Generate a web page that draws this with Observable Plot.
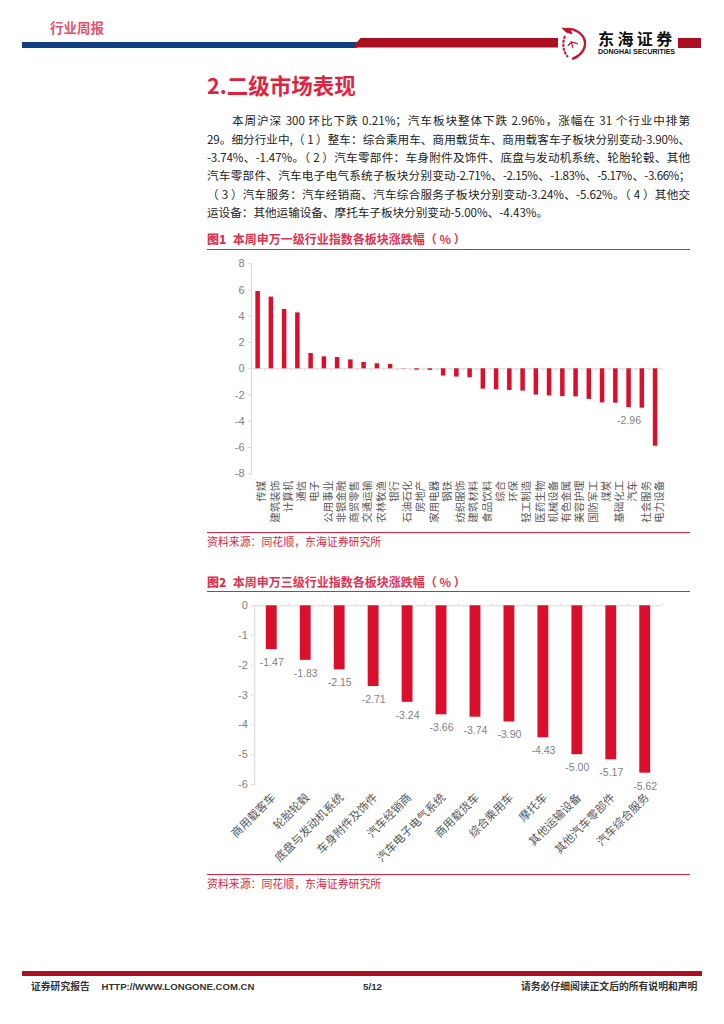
<!DOCTYPE html>
<html lang="zh">
<head>
<meta charset="utf-8">
<script src="https://cdn.jsdelivr.net/npm/d3@7"></script>
<script src="https://cdn.jsdelivr.net/npm/@observablehq/plot@0.6"></script>
<style>
html,body{margin:0;padding:0;background:#fff;}
body{position:relative;width:724px;height:1024px;overflow:hidden;font-family:"Noto Sans CJK SC","Noto Sans",sans-serif;}
.abs{position:absolute;white-space:nowrap;}
.line{position:absolute;left:207px;width:483px;font-size:11.6px;line-height:18px;color:#222;text-align:justify;text-align-last:justify;white-space:normal;}
.cap{position:absolute;left:207px;font-size:12px;font-weight:700;color:#e0314f;white-space:nowrap;}
.cap b{display:inline-block;width:25.7px;}
.src{position:absolute;left:207px;font-size:10.9px;color:#d81e3f;white-space:nowrap;}
.rule{position:absolute;left:207px;width:483px;height:1.2px;background:#e1223f;}
.foot{position:absolute;top:980px;font-size:9.8px;line-height:14px;font-weight:700;color:#333;white-space:nowrap;font-family:"Liberation Sans","Noto Sans CJK SC",sans-serif;}
.chart{position:absolute;left:207px;}
</style>
</head>
<body>
<div class="abs" style="left:50px;top:17px;font-size:13.5px;font-weight:700;color:#e4526c;">行业周报</div>
<div class="abs" style="left:22px;top:41.5px;width:335px;height:6px;background:#0f3f82;"></div>
<div class="abs" style="left:352.5px;top:38px;width:205.5px;height:9.5px;background:#ac0e22;clip-path:polygon(8px 0,100% 0,100% 100%,0 100%);"></div>
<div class="abs" style="left:678px;top:38px;width:23px;height:9.5px;background:#ac0e22;"></div>
<svg class="abs" style="left:560px;top:26px;" width="30" height="36" viewBox="0 0 30 36" fill="none" stroke="#c2142c">
  <path d="M6 3 C15 2 24 8 25 16 C25.500 24 20 30 12 33" stroke-width="2.4"/>
  <path d="M5 10 C2 17 3 26 8 31" stroke-width="2" stroke-dasharray="3 1"/>
  <path d="M2 2 L10 3 L12 8 L6 6Z" fill="#c2142c" stroke-width="0.8"/>
  <path d="M8 20 C11 15 14 16 18 18 M11 15 L13 22" stroke-width="1.1"/>
</svg>
<div class="abs" style="left:598px;top:30px;font-size:16px;line-height:16px;font-weight:700;letter-spacing:3.4px;color:#111;">东海证券</div>
<div class="abs" style="left:598px;top:48px;font-size:7px;line-height:8px;font-weight:700;color:#111;font-family:'Liberation Sans',sans-serif;">DONGHAI SECURITIES</div>

<div class="abs" style="left:207px;top:69px;font-size:21.5px;font-weight:700;color:#e1223f;">2.二级市场表现</div>

<div class="line" style="top:111px;left:232px;width:458px;">本周沪深 300 环比下跌 0.21%；汽车板块整体下跌 2.96%，涨幅在 31 个行业中排第</div>
<div class="line" style="top:130px;letter-spacing:-0.15px;">29。细分行业中,（ 1 ）整车：综合乘用车、商用载货车、商用载客车子板块分别变动-3.90%、</div>
<div class="line" style="top:148px;letter-spacing:-0.15px;">-3.74%、-1.47%。（ 2 ）汽车零部件：车身附件及饰件、底盘与发动机系统、轮胎轮毂、其他</div>
<div class="line" style="top:166px;letter-spacing:-0.45px;">汽车零部件、汽车电子电气系统子板块分别变动-2.71%、-2.15%、-1.83%、-5.17%、-3.66%；</div>
<div class="line" style="top:185px;letter-spacing:-0.1px;">（ 3 ）汽车服务：汽车经销商、汽车综合服务子板块分别变动-3.24%、-5.62%。（ 4 ）其他交</div>
<div class="line" style="top:203px;text-align-last:left;">运设备：其他运输设备、摩托车子板块分别变动-5.00%、-4.43%。</div>

<div class="cap" style="top:230px;"><b>图1</b>本周申万一级行业指数各板块涨跌幅（ % ）</div>
<div class="rule" style="top:249px;"></div>
<div class="chart" id="c1" style="top:255px;"></div>
<div class="rule" style="top:532px;"></div>
<div class="src" style="top:533px;">资料来源：同花顺，东海证券研究所</div>

<div class="cap" style="top:572.5px;"><b>图2</b>本周申万三级行业指数各板块涨跌幅（ % ）</div>
<div class="rule" style="top:591px;"></div>
<div class="chart" id="c2" style="top:597px;"></div>
<div class="rule" style="top:874px;"></div>
<div class="src" style="top:875px;">资料来源：同花顺，东海证券研究所</div>

<div class="abs" style="left:22px;top:971px;width:680px;height:4.7px;background:#ac0e22;"></div>
<div class="foot" style="left:31px;">证券研究报告</div>
<div class="foot" style="left:101.500px;font-size:9.6px;">HTTP://WWW.LONGONE.COM.CN</div>
<div class="foot" style="left:363px;">5/12</div>
<div class="foot" style="left:521px;">请务必仔细阅读正文后的所有说明和声明</div>

<script>
const industries = ["传媒","建筑装饰","计算机","通信","电子","公用事业","非银金融","商贸零售","交通运输","农林牧渔","银行","石油石化","房地产","家用电器","钢铁","纺织服饰","建筑材料","食品饮料","综合","环保","轻工制造","医药生物","机械设备","有色金属","美容护理","国防军工","煤炭","基础化工","汽车","社会服务","电力设备"];
const industryChange = [5.89,5.46,4.52,4.26,1.17,0.91,0.86,0.68,0.48,0.38,0.33,-0.02,-0.10,-0.12,-0.55,-0.63,-0.68,-1.55,-1.60,-1.65,-1.70,-2.00,-2.07,-2.12,-2.14,-2.33,-2.60,-2.62,-2.96,-3.00,-5.90];
const labelledIndustry = ["汽车"];
const yTicks1 = [-8,-6,-4,-2,0,2,4,6,8];

const subsectors = ["商用载客车","轮胎轮毂","底盘与发动机系统","车身附件及饰件","汽车经销商","汽车电子电气系统","商用载货车","综合乘用车","摩托车","其他运输设备","其他汽车零部件","汽车综合服务"];
const subsectorChange = [-1.47,-1.83,-2.15,-2.71,-3.24,-3.66,-3.74,-3.90,-4.43,-5.00,-5.17,-5.62];
const yTicks2 = [-6,-5,-4,-3,-2,-1,0];

const RED = "#d90f2b", AXIS = "#d9d9d9", TXT = "#7f7f7f", LAB = "#595959";
const FONT = '"Noto Sans CJK SC","Noto Sans",sans-serif';

function chart({cats, vals, labelled, ticks, domain, ml, mb, xFont, rotate, xdx, xdy, barFrac, tickLen}) {
  const width = 483, height = 275, mt = 8.3, mr = 28.3;
  const halfStep = (width - ml - mr) / cats.length / 2;
  const rows = cats.map((c, i) => ({c, v: vals[i]}));
  return Plot.plot({
    width, height, marginLeft: ml, marginRight: mr, marginTop: mt, marginBottom: mb,
    style: {fontFamily: FONT, background: "transparent", overflow: "visible"},
    x: {domain: cats, paddingInner: 1 - barFrac, paddingOuter: (1 - barFrac) / 2, round: false, label: null, axis: null},
    y: {domain, label: null, axis: null},
    marks: [
      Plot.frame({anchor: "left", stroke: AXIS}),
      Plot.ruleY([0], {stroke: AXIS}),
      Plot.ruleX(cats, {x: d => d, y1: 0, y2: tickLen, stroke: AXIS, dx: halfStep}),
      Plot.barY(rows, {x: "c", y: "v", fill: RED}),
      Plot.text(rows.filter(d => labelled.includes(d.c)), {x: "c", y: "v", text: d => d.v.toFixed(2), dy: 13, fill: TXT, fontSize: 10.5, fontFamily: '"Liberation Sans",sans-serif', lineAnchor: "middle"}),
      Plot.axisY({anchor: "left", ticks, tickFormat: d => String(d), tickSize: 3, stroke: AXIS, color: TXT, tickPadding: 4, fontSize: 11, fontFamily: '"Liberation Sans",sans-serif', label: null}),
      Plot.axisX({anchor: "bottom", tickSize: 0, tickRotate: rotate, tickPadding: 7, fontSize: xFont, color: LAB, dx: xdx, dy: xdy, label: null})
    ]
  });
}

document.getElementById("c1").append(chart({
  cats: industries, vals: industryChange, labelled: labelledIndustry,
  ticks: yTicks1, domain: [-8, 8], ml: 44, mb: 56.7, xFont: 10.5, rotate: -90, xdx: 4, xdy: 0, barFrac: 0.34, tickLen: -0.2
}));
document.getElementById("c2").append(chart({
  cats: subsectors, vals: subsectorChange, labelled: subsectors,
  ticks: yTicks2, domain: [-6, 0], ml: 47.3, mb: 88, xFont: 11.4, rotate: -45, xdx: 2, xdy: 4, barFrac: 0.32, tickLen: 0.07
}));
</script>
</body>
</html>
